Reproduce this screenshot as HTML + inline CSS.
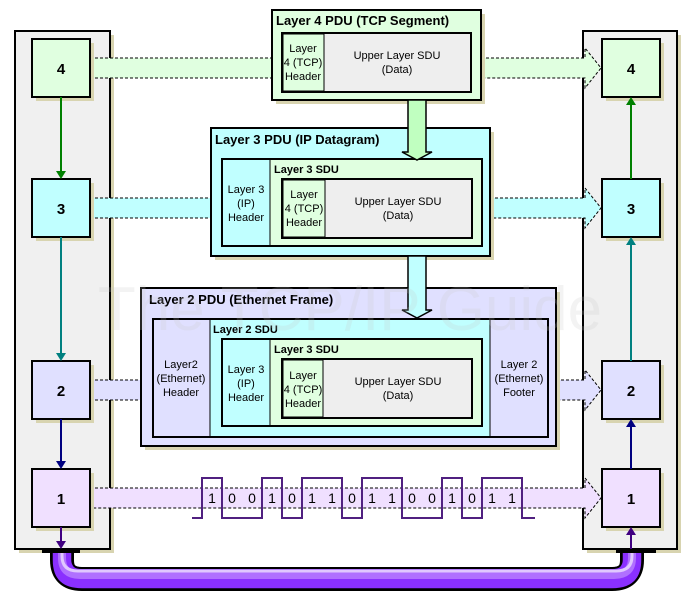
<!DOCTYPE html>
<html><head><meta charset="utf-8"><style>
html,body{margin:0;padding:0;background:#fff;}
svg{display:block;font-family:"Liberation Sans",Arial,sans-serif;}
.t{font-size:11px;fill:#000;text-anchor:middle}
.b{font-weight:bold;font-size:13px}
.s{font-weight:bold;font-size:11px}
.n{font-size:15px;font-weight:bold;text-anchor:middle}
.d{font-size:14px;text-anchor:middle}
</style></head><body>
<svg width="692" height="607" viewBox="0 0 692 607" xmlns="http://www.w3.org/2000/svg">
<defs></defs>
<!-- panels -->
<rect x="19" y="35" width="95" height="518" fill="#d8d4b0"/>
<rect x="15" y="31" width="95" height="518" fill="#f0f0f0" stroke="#000" stroke-width="2"/>
<rect x="587" y="35" width="94" height="518" fill="#d8d4b0"/>
<rect x="583" y="31" width="94" height="518" fill="#f0f0f0" stroke="#000" stroke-width="2"/>

<!-- cable -->
<path d="M62 549 V560 Q62 579 82 579 H612 Q632 579 632 560 V549" fill="none" stroke="#000" stroke-width="24"/>
<path d="M62 549 V560 Q62 579 82 579 H612 Q632 579 632 560 V549" fill="none" stroke="#8a30ff" stroke-width="20"/>
<path d="M62 549 V558 Q62 575 80 575 H614 Q632 575 632 558 V549" fill="none" stroke="#b070ff" stroke-width="8"/>
<path d="M62 549 V556 Q62 571 78 571 H616 Q632 571 632 556 V549" fill="none" stroke="#e0c8ff" stroke-width="3"/>
<path d="M52 549 V560 Q52 589 82 589 H612 Q642 589 642 560 V549" fill="none" stroke="#000" stroke-width="1.5"/>
<path d="M72 549 V560 Q72 568 82 568 H612 Q622 568 622 560 V549" fill="none" stroke="#000" stroke-width="1.5"/>
<rect x="42" y="548" width="38" height="5" fill="#000"/>
<rect x="616" y="548" width="40" height="5" fill="#000"/>

<!-- dashed bands -->
<g stroke="#000" stroke-width="1" stroke-dasharray="3,2">
<rect x="90" y="58" width="182" height="20" fill="#e0ffe0" stroke="none"/>
<line x1="90" y1="58" x2="272" y2="58"/><line x1="90" y1="78" x2="272" y2="78"/>
<path d="M481 58 H585 V48 L601 68 L585 88 V78 H481" fill="#e0ffe0"/>
<rect x="90" y="198" width="121" height="20" fill="#c0ffff" stroke="none"/>
<line x1="90" y1="198" x2="211" y2="198"/><line x1="90" y1="218" x2="211" y2="218"/>
<path d="M490 198 H585 V188 L601 208 L585 228 V218 H490" fill="#c0ffff"/>
<rect x="90" y="380" width="51" height="20" fill="#e0e0ff" stroke="none"/>
<line x1="90" y1="380" x2="141" y2="380"/><line x1="90" y1="400" x2="141" y2="400"/>
<path d="M556 380 H585 V370 L601 390 L585 410 V400 H556" fill="#e0e0ff"/>
<path d="M90 488 H585 V478 L601 498 L585 518 V508 H90" fill="#f0e0ff"/>
</g>

<!-- stack boxes -->
<g stroke="#000" stroke-width="2">
<rect x="36" y="43" width="58" height="58" fill="#d8d4b0" stroke="none"/>
<rect x="32" y="39" width="58" height="58" fill="#e0ffe0"/>
<rect x="36" y="183" width="58" height="58" fill="#d8d4b0" stroke="none"/>
<rect x="32" y="179" width="58" height="58" fill="#c0ffff"/>
<rect x="36" y="365" width="58" height="58" fill="#d8d4b0" stroke="none"/>
<rect x="32" y="361" width="58" height="58" fill="#e0e0ff"/>
<rect x="36" y="473" width="58" height="58" fill="#d8d4b0" stroke="none"/>
<rect x="32" y="469" width="58" height="58" fill="#f0e0ff"/>
<rect x="606" y="43" width="58" height="58" fill="#d8d4b0" stroke="none"/>
<rect x="602" y="39" width="58" height="58" fill="#e0ffe0"/>
<rect x="606" y="183" width="58" height="58" fill="#d8d4b0" stroke="none"/>
<rect x="602" y="179" width="58" height="58" fill="#c0ffff"/>
<rect x="606" y="365" width="58" height="58" fill="#d8d4b0" stroke="none"/>
<rect x="602" y="361" width="58" height="58" fill="#e0e0ff"/>
<rect x="606" y="473" width="58" height="58" fill="#d8d4b0" stroke="none"/>
<rect x="602" y="469" width="58" height="58" fill="#f0e0ff"/>
</g>
<text x="61" y="74" class="n">4</text>
<text x="61" y="214" class="n">3</text>
<text x="61" y="396" class="n">2</text>
<text x="61" y="504" class="n">1</text>
<text x="631" y="74" class="n">4</text>
<text x="631" y="214" class="n">3</text>
<text x="631" y="396" class="n">2</text>
<text x="631" y="504" class="n">1</text>

<!-- vertical arrows -->
<g stroke-width="2">
<line x1="61" y1="97" x2="61" y2="172" stroke="#008000"/><path d="M56 171 L66 171 L61 179Z" fill="#008000"/>
<line x1="61" y1="237" x2="61" y2="354" stroke="#008080"/><path d="M56 353 L66 353 L61 361Z" fill="#008080"/>
<line x1="61" y1="419" x2="61" y2="462" stroke="#000080"/><path d="M56 461 L66 461 L61 469Z" fill="#000080"/>
<line x1="61" y1="527" x2="61" y2="542" stroke="#400080"/><path d="M56 541 L66 541 L61 549Z" fill="#400080"/>
<line x1="631" y1="179" x2="631" y2="104" stroke="#008000"/><path d="M626 105 L636 105 L631 97Z" fill="#008000"/>
<line x1="631" y1="361" x2="631" y2="244" stroke="#008080"/><path d="M626 245 L636 245 L631 237Z" fill="#008080"/>
<line x1="631" y1="469" x2="631" y2="426" stroke="#000080"/><path d="M626 427 L636 427 L631 419Z" fill="#000080"/>
<line x1="631" y1="549" x2="631" y2="534" stroke="#400080"/><path d="M626 535 L636 535 L631 527Z" fill="#400080"/>
</g>

<!-- Layer 4 PDU -->
<rect x="276" y="14" width="209" height="90" fill="#d8d4b0"/>
<rect x="272" y="10" width="209" height="90" fill="#e0ffe0" stroke="#000" stroke-width="2"/>
<text x="276" y="25" class="b">Layer 4 PDU (TCP Segment)</text>
<rect x="282" y="33" width="189" height="59" fill="#eeeeee" stroke="#000" stroke-width="2"/>
<rect x="283" y="34" width="41" height="57" fill="#e0ffe0" stroke="#000" stroke-width="1"/>
<text class="t" x="303" y="52">Layer</text><text class="t" x="303" y="66">4 (TCP)</text><text class="t" x="303" y="80">Header</text>
<text class="t" x="397" y="59">Upper Layer SDU</text><text class="t" x="397" y="73">(Data)</text>

<!-- Layer 3 PDU -->
<rect x="215" y="132" width="279" height="128" fill="#d8d4b0"/>
<rect x="211" y="128" width="279" height="128" fill="#c0ffff" stroke="#000" stroke-width="2"/>
<text x="215" y="144" class="b">Layer 3 PDU (IP Datagram)</text>
<rect x="222" y="159" width="260" height="87" fill="#e0ffe0" stroke="#000" stroke-width="2"/>
<rect x="222" y="159" width="48" height="87" fill="#c0ffff" stroke="#000" stroke-width="1"/>
<rect x="222" y="159" width="260" height="87" fill="none" stroke="#000" stroke-width="2"/>
<text class="t" x="246" y="193">Layer 3</text><text class="t" x="246" y="207">(IP)</text><text class="t" x="246" y="221">Header</text>
<text x="274" y="173" class="s">Layer 3 SDU</text>
<rect x="282" y="179" width="190" height="59" fill="#eeeeee" stroke="#000" stroke-width="2"/>
<rect x="283" y="180" width="42" height="57" fill="#e0ffe0" stroke="#000" stroke-width="1"/>
<text class="t" x="304" y="198">Layer</text><text class="t" x="304" y="212">4 (TCP)</text><text class="t" x="304" y="226">Header</text>
<text class="t" x="398" y="205">Upper Layer SDU</text><text class="t" x="398" y="219">(Data)</text>

<!-- Layer 2 PDU -->
<rect x="145" y="292" width="415" height="158" fill="#d8d4b0"/>
<rect x="141" y="288" width="415" height="158" fill="#e0e0ff" stroke="#000" stroke-width="2"/>
<text x="149" y="304" class="b">Layer 2 PDU (Ethernet Frame)</text>
<rect x="153" y="319" width="395" height="118" fill="#c0ffff"/>
<rect x="153" y="319" width="57" height="118" fill="#e0e0ff" stroke="#000" stroke-width="1"/>
<rect x="490" y="319" width="58" height="118" fill="#e0e0ff" stroke="#000" stroke-width="1"/>
<rect x="153" y="319" width="395" height="118" fill="none" stroke="#000" stroke-width="2"/>
<text class="t" x="181" y="368">Layer2</text><text class="t" x="181" y="382">(Ethernet)</text><text class="t" x="181" y="396">Header</text>
<text class="t" x="519" y="368">Layer 2</text><text class="t" x="519" y="382">(Ethernet)</text><text class="t" x="519" y="396">Footer</text>
<text x="213" y="333" class="s">Layer 2 SDU</text>
<rect x="222" y="339" width="260" height="87" fill="#e0ffe0" stroke="#000" stroke-width="2"/>
<rect x="222" y="339" width="48" height="87" fill="#c0ffff" stroke="#000" stroke-width="1"/>
<rect x="222" y="339" width="260" height="87" fill="none" stroke="#000" stroke-width="2"/>
<text class="t" x="246" y="373">Layer 3</text><text class="t" x="246" y="387">(IP)</text><text class="t" x="246" y="401">Header</text>
<text x="274" y="353" class="s">Layer 3 SDU</text>
<rect x="282" y="359" width="190" height="59" fill="#eeeeee" stroke="#000" stroke-width="2"/>
<rect x="283" y="360" width="40" height="57" fill="#e0ffe0" stroke="#000" stroke-width="1"/>
<text class="t" x="303" y="379">Layer</text><text class="t" x="303" y="393">4 (TCP)</text><text class="t" x="303" y="407">Header</text>
<text class="t" x="398" y="385">Upper Layer SDU</text><text class="t" x="398" y="399">(Data)</text>

<!-- big down arrows (on top) -->
<path d="M408 100 V152 H402 L417 160 L432 152 H426 V100 Z" fill="#c0ffc0" stroke="#000" stroke-width="1.5"/>
<path d="M408 256 V310 H402 L417 318 L432 310 H426 V256 Z" fill="#c0ffff" stroke="#000" stroke-width="1.5"/>

<!-- watermark -->
<text x="350" y="330" text-anchor="middle" style="font-size:62px" fill="#c8c8c8" opacity="0.2">The TCP/IP Guide</text>

<!-- square wave -->
<path d="M192 518 H202 V478 H222 V518 H262 V478 H282 V518 H302 V478 H342 V518 H362 V478 H402 V518 H442 V478 H462 V518 H482 V478 H522 V518 H535" fill="none" stroke="#502080" stroke-width="2"/>
<text class="d" x="212" y="503">1</text>
<text class="d" x="232" y="503">0</text>
<text class="d" x="252" y="503">0</text>
<text class="d" x="272" y="503">1</text>
<text class="d" x="292" y="503">0</text>
<text class="d" x="312" y="503">1</text>
<text class="d" x="332" y="503">1</text>
<text class="d" x="352" y="503">0</text>
<text class="d" x="372" y="503">1</text>
<text class="d" x="392" y="503">1</text>
<text class="d" x="412" y="503">0</text>
<text class="d" x="432" y="503">0</text>
<text class="d" x="452" y="503">1</text>
<text class="d" x="472" y="503">0</text>
<text class="d" x="492" y="503">1</text>
<text class="d" x="512" y="503">1</text>
</svg>
</body></html>
